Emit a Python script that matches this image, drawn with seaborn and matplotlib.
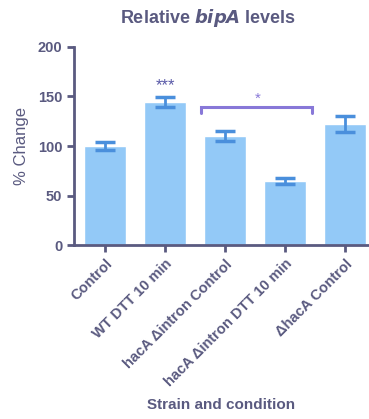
import matplotlib
matplotlib.use("Agg")
import matplotlib.pyplot as plt
import seaborn as sns
import pandas as pd

categories = ["Control", "WT DTT 10 min", "hacA \u0394intron Control",
              "hacA \u0394intron DTT 10 min", "\u0394hacA Control"]
means = [100, 144, 110, 65, 122]
sems = [4, 5, 5, 3, 8]
yticks = [0, 50, 100, 150, 200]

df = pd.DataFrame({"condition": categories, "change": means})

sns.set_style("ticks")
plt.rcParams["font.family"] = ["Liberation Sans", "DejaVu Sans"]

text_col = "#5a5a80"
bar_col = "#93c9f7"
err_col = "#4a8fdc"
sig_col = "#8878d8"

fig = plt.figure(figsize=(3.69, 4.19), dpi=100)
ax = fig.add_axes([0.2005, 0.415, 0.7995, 0.473])

sns.barplot(data=df, x="condition", y="change", color=bar_col,
            saturation=1, width=0.7, errorbar=None, ax=ax)
ax.errorbar(range(len(categories)), means, yerr=sems, fmt="none",
            ecolor=err_col, elinewidth=2, capsize=7, capthick=2.5, zorder=3)

ax.set_ylim(0, 200)
ax.set_xlim(-0.52, 4.4)
ax.set_yticks(yticks)
ax.set_yticklabels([str(v) for v in yticks], fontsize=10.5,
                   fontweight="bold", color=text_col)
ax.set_xticks(range(len(categories)))
ax.set_xticklabels(categories, rotation=45, ha="right",
                   rotation_mode="anchor", fontsize=10.5,
                   fontweight="bold", color=text_col)

for side in ("top", "right"):
    ax.spines[side].set_visible(False)
for side in ("left", "bottom"):
    ax.spines[side].set_color(text_col)
    ax.spines[side].set_linewidth(2)
ax.tick_params(axis="both", colors=text_col, width=2, length=5)

ax.set_xlabel("Strain and condition", fontsize=11, fontweight="bold",
              color=text_col, labelpad=6)
ax.set_ylabel("% Change", fontsize=12, color=text_col, labelpad=6)
ax.set_title("Relative $\\bfit{bipA}$ levels", fontsize=13,
             fontweight="bold", color=text_col, pad=17, x=0.455)

# significance markers
ax.text(1, 161, "***", ha="center", va="center", fontsize=12, color="#5a5aa8")
ax.plot([1.6, 1.6, 3.45, 3.45], [133, 139.5, 139.5, 133],
        color=sig_col, lw=2.2, solid_joinstyle="miter")
ax.text(2.55, 148, "*", ha="center", va="center", fontsize=11, color=sig_col)

fig.savefig("out.png", dpi=100)
